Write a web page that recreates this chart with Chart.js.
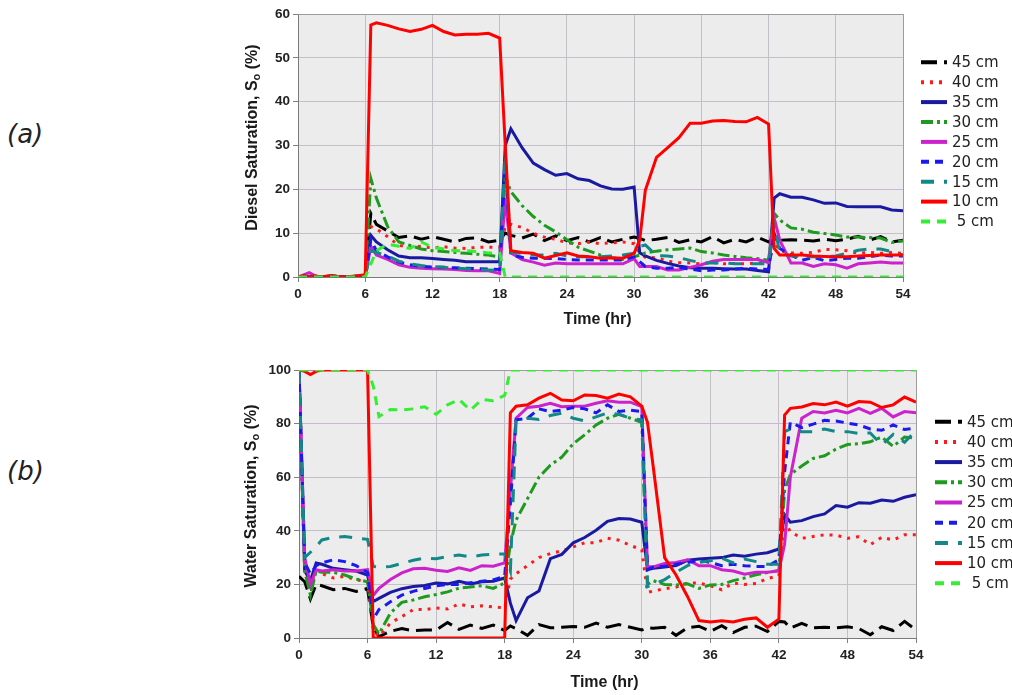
<!DOCTYPE html>
<html>
<head>
<meta charset="utf-8">
<script src="https://cdn.jsdelivr.net/npm/chart.js@4/dist/chart.umd.min.js"></script>
<style>
  html, body { margin: 0; padding: 0; background: #fff; overflow: hidden; width: 1012px; height: 695px; }
  #wrapA { position: absolute; left: 0; top: 0; width: 1012px; height: 340px; }
  #wrapB { position: absolute; left: 0; top: 350px; width: 1060px; height: 345px; }
  .tag { position: absolute; left: 7px; font-family: "DejaVu Sans", sans-serif; font-style: italic; font-weight: 300; font-size: 26px; color: #222; line-height: 1; }
</style>
</head>
<body>
<div class="tag" style="top:121px">(a)</div>
<div class="tag" style="top:458px">(b)</div>
<div id="wrapA"><canvas id="cA" width="1012" height="340"></canvas></div>
<div id="wrapB"><canvas id="cB" width="1060" height="345"></canvas></div>
<script>
// Sampling times (hr)
const hours = [0,0.5,1,1.5,2,3,4,5,6,
  6.5,7,8,9,10,11,12,13,14,15,16,17,18,
  18.5,19,20,21,22,23,24,25,26,27,28,29,30,
  30.5,31,32,33,34,35,36,37,38,39,40,41,42,
  42.5,43,44,45,46,47,48,49,50,51,52,53,54];

const depthLabels = ['45 cm','40 cm','35 cm','30 cm','25 cm','20 cm','15 cm','10 cm',' 5 cm'];

// (a) Diesel saturation, %
const dieselAt45 = [0,0.3,0,0.2,0,0.3,0,0.2,0.3,
  14.5,12.0,10.5,9.0,9.4,8.6,9.2,8.6,8.0,8.8,8.9,8.0,8.4,
  10.0,9.5,8.9,9.8,8.3,9.4,8.3,9.0,8.0,9.0,8.0,8.6,9.1,
  8.8,8.3,8.6,9.0,7.9,8.5,8.0,9.2,7.8,8.6,8.0,9.1,8.0,
  8.8,8.4,8.5,8.4,8.2,8.6,8.3,8.6,9.3,8.4,9.2,8.0,8.4];
const dieselAt40 = [0,0,0,0,0,0,0,0,0,
  11.5,11.0,9.2,7.2,6.8,7.0,6.6,6.9,6.6,6.5,6.8,6.8,6.8,
  11.5,12.0,11.3,10.0,9.1,8.6,7.8,7.6,8.0,7.6,7.8,8.0,7.6,
  5.5,4.5,4.4,3.6,3.3,3.2,3.0,3.3,3.0,3.1,3.0,3.2,3.0,
  8.0,6.0,5.5,5.4,5.6,6.3,6.2,6.0,5.4,5.6,5.4,5.6,5.4];
const dieselAt35 = [0,0,0,0.2,0,0,0,0,0,
  9.5,8.0,6.2,4.8,4.4,4.4,4.2,4.0,3.8,3.5,3.5,3.5,3.5,
  30.0,33.8,29.5,26.0,24.5,23.2,23.6,22.4,22.0,20.8,20.1,20.0,20.5,
  5.5,4.8,3.8,3.1,2.5,2.1,2.0,2.0,1.9,1.8,1.8,1.5,1.2,
  18.0,19.0,18.2,18.2,17.6,16.8,16.9,16.1,16.0,16.0,16.0,15.3,15.1];
const dieselAt30 = [0,0,0,0,0,0,0,0,0,
  22.5,18.0,11.5,8.0,7.2,6.4,6.0,5.8,5.6,5.4,5.2,5.0,4.6,
  23.0,19.5,16.3,13.8,11.8,10.3,8.5,6.8,5.9,5.0,4.4,4.0,4.6,
  5.0,5.5,5.9,6.2,6.4,6.6,5.8,5.5,5.0,4.7,4.4,4.2,3.8,
  14.5,13.0,11.2,10.9,10.2,9.9,9.6,9.1,9.1,9.0,8.9,7.9,8.2];
const dieselAt25 = [0,0.5,1.0,0.3,0,0,0,0,0,
  7.0,5.0,4.0,2.8,2.2,2.0,1.9,1.8,1.7,1.5,1.4,1.4,0.8,
  18.0,5.5,4.0,3.4,2.7,3.2,3.0,3.0,3.0,3.0,3.0,3.0,4.2,
  2.4,2.4,2.4,1.6,1.6,2.2,2.8,3.6,4.0,4.0,4.0,4.0,3.3,
  13.5,8.4,3.2,3.2,2.4,3.0,2.8,2.0,3.0,3.2,3.4,3.2,3.2];
const dieselAt20 = [0,0.2,0.3,0,0,0,0,0,0,
  8.5,6.0,4.6,3.4,2.8,2.4,2.3,2.2,2.1,2.0,1.9,1.8,1.7,
  26.0,5.0,4.5,4.3,4.3,4.2,4.0,3.9,3.9,3.9,3.9,3.9,4.6,
  3.5,2.4,2.0,2.0,2.2,1.8,1.4,1.6,1.6,1.8,2.0,1.8,1.7,
  10.0,6.5,5.0,3.8,4.5,3.7,4.0,4.3,4.3,4.6,5.0,4.8,4.8];
const dieselAt15 = [0,0,0,0,0,0,0,0,0,
  6.0,5.6,4.8,3.6,3.0,2.6,2.4,2.2,2.0,1.9,1.7,1.6,1.5,
  28.0,5.6,5.4,5.0,5.0,5.4,4.8,4.6,4.6,4.6,4.8,5.0,5.4,
  7.0,7.3,4.9,4.8,4.4,3.8,3.2,3.2,3.2,3.0,3.0,3.0,3.0,
  12.0,5.5,4.8,4.7,4.6,4.6,4.8,5.4,6.1,6.4,6.4,5.8,5.0];
const dieselAt10 = [0,0.3,0,0.2,0,0.3,0,0.2,0.5,
  57.5,58.0,57.4,56.6,56.0,56.5,57.4,56.0,55.2,55.4,55.4,55.6,54.5,
  30.0,6.0,5.6,5.4,4.3,4.9,5.5,4.8,4.6,4.3,4.4,4.3,5.4,
  8.4,19.8,27.3,29.5,31.8,35.1,35.1,35.6,35.7,35.5,35.4,36.4,34.9,
  6.5,5.0,5.0,5.0,4.8,4.7,4.6,4.6,4.8,4.9,5.0,5.0,5.0];
const dieselAt5 = [0,0,0,0,0,0,0,0,0,
  3.0,6.0,7.5,7.0,6.5,8.0,6.8,6.4,6.0,6.0,5.8,5.5,5.5,
  0,0,0,0,0,0,0,0,0,0,0,0,0,
  0,0,0,0,0,0,0,0,0,0,0,0,0,
  0,0,0,0,0,0,0,0,0,0,0,0,0];

// (b) Water saturation, %
const waterAt45 = [23,21,14.5,20,19.5,18.0,18.5,17.4,18.5,
  4.0,0.5,2.5,3.5,2.7,3.0,3.0,5.8,3.2,4.8,3.6,4.8,2.8,
  4.5,3.5,1.0,5.0,3.8,4.0,4.3,4.0,5.6,4.0,5.0,4.0,3.0,
  3.8,3.6,4.0,1.0,3.8,4.4,2.5,4.6,2.0,4.0,4.4,2.4,6.2,
  6.0,3.7,5.5,3.8,4.0,3.8,4.2,3.5,1.2,4.2,2.8,6.2,3.0];
const waterAt40 = [100,24,19,25,24,22.4,23,21.7,21,
  3,0.5,5.6,8.0,10.6,10.6,11.2,10.8,12.7,11.6,12.0,11.6,11.2,
  22,24,27,30,31.5,32.5,34,35.5,35.6,37.2,36.5,34.5,33,
  17,17.5,18.4,19,20.5,20.5,19.5,18,20.5,20,20.3,22.2,23.2,
  43.5,39.7,37.2,37.9,38.5,38.4,37.2,37.8,34.8,37.6,36.6,38.5,38.5];
const waterAt35 = [100,25,21.5,28,27.5,26,25.5,25,23.5,
  13.6,14.8,17,18.4,19.2,19.6,20.5,20.2,21.2,20.2,21,21.2,22.4,
  13,6.5,15,17.5,29.6,31.2,35.5,37.5,40.2,43.5,44.6,44.4,43.2,
  25.5,26,26.5,27,29,29.5,29.8,30,31,30.5,31.3,31.8,33.2,
  46,43.2,43.8,45.3,46.3,49.4,48.8,50.5,50.3,51.5,51,52.5,53.5];
const waterAt30 = [100,25,16,25,24.5,24.5,23.5,22,21,
  5,1.5,9.3,13.3,14.2,15.4,16.2,17.2,18.6,19,19.5,18.5,20.5,
  35,44,52,60,64.5,67.5,72.5,75.8,79.5,82,83.5,82,80.5,
  20,21.4,20,19.8,20.2,18.5,19.8,20,21.4,22.4,23.6,24.4,25.2,
  55,61,64.2,67,68,70.5,72.2,72.5,73.2,75,71.5,75,74.5];
const waterAt25 = [100,30,20,25.5,25,25.5,25,25,25.5,
  16,18.5,21.8,24.3,25.8,26,25.3,24.8,26.2,25.2,27,26.8,28,
  55,82,86,86.5,87.6,86.3,86.5,86.5,87.6,88.5,88,88,86.3,
  26.7,26.5,27.8,28.2,29.2,27,27,25.5,25,23.8,24.5,24.5,25,
  35,60,82,84.5,84,85,84,85.7,83.8,85.7,82.5,84.5,84];
const waterAt20 = [100,28,24,27,28,29.2,28.5,27,24.5,
  7,10.6,13.5,16,17.4,18.5,19.5,20,20,20.6,21.2,21.7,23,
  50,81.4,82,85.5,84.5,85,86,85.5,84,87,84.5,85,84.5,
  25.5,26.5,26.8,27.5,28.2,29,28.2,27,27.5,27,26.7,26.7,29.2,
  62,80.5,78.5,79.8,81.2,81,80.2,79.5,78,77.5,79.5,77.8,78.3];
const waterAt15 = [100,30,32,34,36.6,37.5,37.9,37.3,36.8,
  26.7,26.5,26.7,27.8,29,29.8,29.6,30.4,31,30.2,31,31.3,31.3,
  25,81,82,81.5,83,83.9,82,81,82.5,84,83.5,82,81.4,
  19.2,20,21.8,24.5,27,28.2,28.8,29.8,28,29.5,28.5,27.5,27.5,
  77,78,77,77,78,77,77,76.3,76.5,72,76,73,77.5];
const waterAt10 = [100,99.5,98.3,99.5,100,100,100,100,100,
  0,0,0,0,0,0,0,0,0,0,0,0,0,
  84,86.5,87,89.5,91.3,88.8,88.5,90.7,90.5,89.5,91,90,86.5,
  80.5,64,30,23.5,15.5,6.5,6,6.4,6,7,7.5,4,7,
  83.2,85.7,86.2,87.5,87,88,86.5,88.2,88,86,87,89.9,88];
const waterAt5 = [100,100,100,100,100,100,100,100,100,
  94,82.6,85.3,85.1,85.5,86.3,83.5,87,89,85,89,88.5,90.5,
  100,100,100,100,100,100,100,100,100,100,100,100,100,
  100,100,100,100,100,100,100,100,100,100,100,100,100,
  100,100,100,100,100,100,100,100,100,100,100,100,100];

// Line appearance per depth
const seriesStyle = [
  { color: '#000000', dash: [16, 7] },
  { color: '#ff1a1a', dash: [3, 6] },
  { color: '#1a1aa0', dash: [] },
  { color: '#1e9a1e', dash: [12, 4, 3, 4] },
  { color: '#cc22cc', dash: [] },
  { color: '#1a1aee', dash: [8, 6] },
  { color: '#138888', dash: [13, 10] },
  { color: '#ff0000', dash: [] },
  { color: '#33ee33', dash: [9, 7] }
];

const tickFont = { family: '"Liberation Sans", Arial, sans-serif', size: 13.5, weight: 'bold' };

function buildDatasets(valueSets) {
  return valueSets.map((vals, i) => ({
    label: depthLabels[i],
    data: hours.map((t, k) => ({ x: t, y: vals[k] })),
    borderColor: seriesStyle[i].color,
    borderDash: seriesStyle[i].dash,
    borderWidth: 3,
    pointRadius: 0,
    tension: 0,
    fill: false,
    order: valueSets.length - 1 - i
  }));
}

function scalesFor(yMax, yStep, tintValue) {
  const gridColor = (c) => (c.tick && c.tick.value === tintValue) ? '#cdb4d8' : '#c4c0c8';
  return {
    x: {
      type: 'linear', min: 0, max: 54,
      ticks: { stepSize: 6, color: '#222', font: tickFont, padding: 4, maxRotation: 0, autoSkip: false },
      grid: { color: '#c4c0c8', tickLength: 5, tickColor: '#808080' },
      border: { color: '#7a7a7a', width: 1 },
      afterFit(s) { s.height = 45; }
    },
    y: {
      min: 0, max: yMax,
      ticks: { stepSize: yStep, color: '#222', font: tickFont, padding: 3 },
      grid: { color: gridColor, tickLength: 5, tickColor: '#808080' },
      border: { color: '#7a7a7a', width: 1 },
      afterFit(s) { s.width = 55; }
    }
  };
}

function decor(o) {
  return {
    id: 'decor',
    beforeDraw(chart) {
      const { ctx, chartArea: a } = chart;
      ctx.save();
      ctx.fillStyle = '#ececec';
      ctx.fillRect(a.left, a.top, a.right - a.left, a.bottom - a.top);
      ctx.restore();
    },
    beforeDatasetsDraw(chart) {
      const { ctx, chartArea: a } = chart;
      ctx.save();
      ctx.strokeStyle = '#9c9c9c';
      ctx.lineWidth = 1;
      ctx.beginPath();
      ctx.moveTo(a.left, Math.round(a.top) + 0.5);
      ctx.lineTo(Math.round(a.right) + 0.5, Math.round(a.top) + 0.5);
      ctx.lineTo(Math.round(a.right) + 0.5, a.bottom);
      ctx.stroke();
      ctx.restore();
    },
    afterDraw(chart) {
      const { ctx, chartArea: a } = chart;
      ctx.save();
      ctx.fillStyle = '#1a1a1a';
      // x axis title
      ctx.font = 'bold 16px "Liberation Sans", Arial, sans-serif';
      ctx.textAlign = 'center';
      ctx.textBaseline = 'middle';
      ctx.fillText('Time (hr)', (a.left + a.right) / 2 - 3, a.bottom + o.xTitleGap);
      // y axis title with subscript
      ctx.translate(a.left - o.yTitleGap, (a.top + a.bottom) / 2 - 8);
      ctx.rotate(-Math.PI / 2);
      ctx.textAlign = 'left';
      const main = 'bold 16px "Liberation Sans", Arial, sans-serif';
      const sub = 'bold 11px "Liberation Sans", Arial, sans-serif';
      const p1 = o.yTitle + ' Saturation, S', p2 = 'o', p3 = ' (%)';
      ctx.font = main; const w1 = ctx.measureText(p1).width; const w3 = ctx.measureText(p3).width;
      ctx.font = sub; const w2 = ctx.measureText(p2).width;
      let x = -(w1 + w2 + w3) / 2;
      ctx.font = main; ctx.fillText(p1, x, 0); x += w1;
      ctx.font = sub; ctx.fillText(p2, x, 4); x += w2;
      ctx.font = main; ctx.fillText(p3, x, 0);
      ctx.restore();

      // legend
      ctx.save();
      ctx.font = '15px "DejaVu Sans", sans-serif';
      ctx.textBaseline = 'middle';
      ctx.textAlign = 'left';
      chart.data.datasets.forEach((ds, i) => {
        const y = o.legendTop + i * o.legendStep;
        ctx.strokeStyle = ds.borderColor;
        ctx.lineWidth = 4;
        ctx.setLineDash(ds.borderDash);
        ctx.beginPath();
        ctx.moveTo(o.legendX, y);
        ctx.lineTo(o.legendX + o.legendLen, y);
        ctx.stroke();
        ctx.setLineDash([]);
        ctx.fillStyle = '#222';
        ctx.fillText(ds.label, o.legendX + o.legendLen + 5, y + 1);
      });
      ctx.restore();
    }
  };
}

function makeChart(id, valueSets, yMax, yStep, tint, pad, o) {
  return new Chart(document.getElementById(id), {
    type: 'line',
    data: { datasets: buildDatasets(valueSets) },
    options: {
      responsive: false,
      animation: false,
      layout: { padding: pad },
      plugins: { legend: { display: false }, tooltip: { enabled: false } },
      scales: scalesFor(yMax, yStep, tint)
    },
    plugins: [decor(o)]
  });
}

makeChart('cA',
  [dieselAt45, dieselAt40, dieselAt35, dieselAt30, dieselAt25, dieselAt20, dieselAt15, dieselAt10, dieselAt5],
  60, 10, 20,
  { left: 243, right: 109, top: 14, bottom: 18 },
  { yTitle: 'Diesel', xTitleGap: 43, yTitleGap: 45, legendX: 921, legendLen: 26, legendTop: 62.3, legendStep: 19.9 });

makeChart('cB',
  [waterAt45, waterAt40, waterAt35, waterAt30, waterAt25, waterAt20, waterAt15, waterAt10, waterAt5],
  100, 20, 80,
  { left: 244, right: 144, top: 20, bottom: 12 },
  { yTitle: 'Water', xTitleGap: 45, yTitleGap: 47.5, legendX: 935, legendLen: 27, legendTop: 71.7, legendStep: 20.2 });
</script>
</body>
</html>
